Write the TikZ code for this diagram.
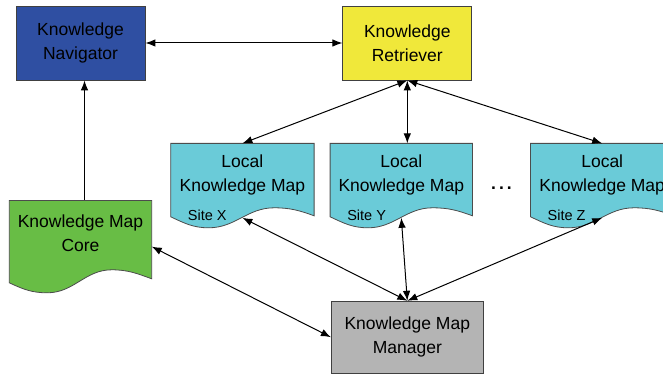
\documentclass[tikz,border=0pt]{standalone}
\usepackage{fontspec}
\setmainfont{Liberation Sans}
\usepackage{xcolor}
\usepackage{tikz}
\usetikzlibrary{arrows.meta,positioning,backgrounds}

\definecolor{navblue}{RGB}{47,79,162}
\definecolor{retyellow}{RGB}{240,232,58}
\definecolor{mapcyan}{RGB}{106,203,216}
\definecolor{coregreen}{RGB}{104,189,69}
\definecolor{mgrgray}{RGB}{180,180,180}

% wavy outline of a document node: name, fill, left rise, crest rise, right rise
\newcommand{\docoutline}[5]{%
  \begin{scope}[on background layer]
    \draw[docline, fill=#2] (#1.north west) -- (#1.north east)
      -- ([yshift=#5]#1.south east)
      to[out=160,in=0] ([xshift=-40pt,yshift=#4]#1.south east)
      to[out=180,in=0] ([xshift=38pt]#1.south west)
      to[out=180,in=-25] ([yshift=#3]#1.south west) -- cycle;
  \end{scope}}

\begin{document}
\begin{tikzpicture}[x=1pt, y=-1pt,
    block/.style={rectangle, draw=black!75, line width=0.8pt, align=center, minimum width=129pt, minimum height=74pt, inner sep=0pt, font=\fontsize{17.5}{24}\selectfont},
    doc/.style={rectangle, align=center, minimum width=143pt, minimum height=84pt, inner sep=0pt, font=\fontsize{17.5}{24}\selectfont},
    docline/.style={draw=black!70, line width=0.8pt},
    site/.style={anchor=base west, inner sep=0pt, font=\fontsize{14.5}{17}\selectfont},
    arrow/.style={<->, >={Latex[length=10pt,width=7.5pt]}, line width=1pt}
]
\useasboundingbox (0,0) rectangle (663,374);
\clip (0,0) rectangle (663,374);

% Top row
\node[block, fill=navblue] (navigator) at (80.5,43) {Knowledge\\Navigator};
\node[block, fill=retyellow, right=197pt of navigator] (retriever) {Knowledge\\Retriever};

% Local maps
\node[doc, below=63pt of retriever, xshift=-6pt, minimum width=142pt] (mapy) {Local\\Knowledge Map\rule[-25pt]{0pt}{0pt}};
\node[doc, left=16pt of mapy] (mapx) {Local\\Knowledge Map\rule[-25pt]{0pt}{0pt}};
\node[doc, right=58pt of mapy] (mapz) {Local\\Knowledge Map\rule[-25pt]{0pt}{0pt}};
\docoutline{mapx}{mapcyan}{11pt}{20pt}{12pt}
\docoutline{mapy}{mapcyan}{11pt}{20pt}{12pt}
\docoutline{mapz}{mapcyan}{11pt}{20pt}{12pt}
\node[site] (sitex) at ([xshift=17pt,yshift=7pt]mapx.south west) {Site X};
\node[site] (sitey) at ([xshift=17pt,yshift=7pt]mapy.south west) {Site Y};
\node[site] (sitez) at ([xshift=17pt,yshift=7pt]mapz.south west) {Site Z};
\node[font=\fontsize{17.5}{24}\selectfont\bfseries, inner sep=0pt, right=29pt of mapy.east, anchor=center, yshift=-3pt] (dots) {.\kern3pt.\kern3pt.};

% Core and manager
\node[doc, below=120pt of navigator, minimum width=142pt, minimum height=92pt] (core) {Knowledge Map\\Core\rule[-27pt]{0pt}{0pt}};
\docoutline{core}{coregreen}{10pt}{23pt}{14pt}
\node[block, fill=mgrgray, below=73pt of mapy, xshift=6pt, minimum width=152pt, minimum height=72pt] (manager) {Knowledge Map\\Manager};

% Arrows
\draw[arrow] (navigator.east) -- (retriever.west);
\draw[arrow, <-] ([xshift=4pt]navigator.south) -- ([xshift=4pt]navigator.south |- core.north);
\draw[arrow] (retriever.south) -- (mapx.north);
\draw[arrow] (retriever.south) -- (retriever.south |- mapy.north);
\draw[arrow] (retriever.south) -- (mapz.north);

\draw[arrow] (core.east) -- (manager.west);
\draw[arrow] (manager.north) -- ([yshift=10pt]mapx.south);
\draw[arrow] (manager.north) -- ([yshift=10pt]mapy.south);
\draw[arrow] (manager.north) -- ([yshift=10pt]mapz.south);

\end{tikzpicture}
\end{document}
